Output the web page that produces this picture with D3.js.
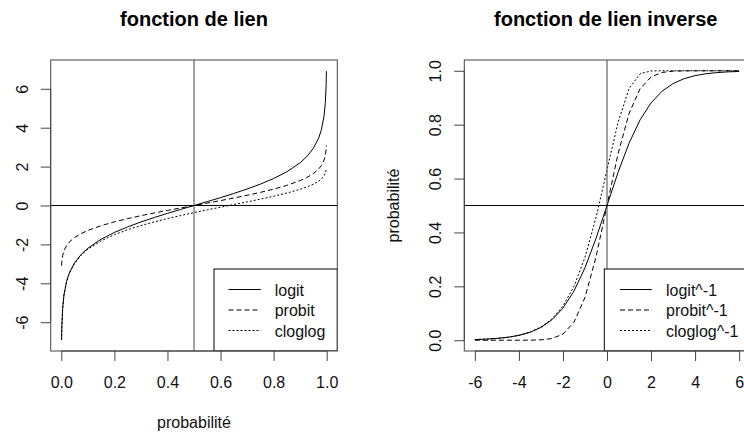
<!DOCTYPE html>
<html>
<head>
<meta charset="utf-8">
<script src="https://cdn.jsdelivr.net/npm/d3@7"></script>
<style>
  html, body { margin: 0; padding: 0; background: #fff; }
  svg { display: block; font-family: "Liberation Sans", Arial, sans-serif; }
</style>
</head>
<body>
<div id="chart"></div>
<script>
// ---------- data ----------
const probs = [0.001, 0.002, 0.005, 0.01, 0.02, 0.03, 0.05, 0.075, 0.1, 0.15, 0.2, 0.25, 0.3, 0.35, 0.4, 0.45, 0.5,
  0.55, 0.6, 0.65, 0.7, 0.75, 0.8, 0.85, 0.9, 0.925, 0.95, 0.97, 0.98, 0.99, 0.995, 0.998, 0.999];
const logitVals = [-6.907, -6.213, -5.293, -4.595, -3.892, -3.476, -2.944, -2.512, -2.197, -1.735, -1.386, -1.099, -0.847, -0.619, -0.405, -0.201, 0,
  0.201, 0.405, 0.619, 0.847, 1.099, 1.386, 1.735, 2.197, 2.512, 2.944, 3.476, 3.892, 4.595, 5.293, 6.213, 6.907];
const probitVals = [-3.090, -2.878, -2.576, -2.326, -2.054, -1.881, -1.645, -1.440, -1.282, -1.036, -0.842, -0.674, -0.524, -0.385, -0.253, -0.126, 0,
  0.126, 0.253, 0.385, 0.524, 0.674, 0.842, 1.036, 1.282, 1.440, 1.645, 1.881, 2.054, 2.326, 2.576, 2.878, 3.090];
const cloglogVals = [-6.907, -6.213, -5.296, -4.600, -3.902, -3.491, -2.970, -2.552, -2.250, -1.817, -1.500, -1.246, -1.031, -0.842, -0.672, -0.514, -0.367,
  -0.225, -0.0875, 0.0486, 0.1856, 0.3266, 0.4759, 0.6403, 0.834, 0.9518, 1.0972, 1.2546, 1.3641, 1.5272, 1.6674, 1.8270, 1.9326];

const etas = [-6, -5.5, -5, -4.5, -4, -3.5, -3, -2.5, -2, -1.5, -1, -0.5, 0, 0.5, 1, 1.5, 2, 2.5, 3, 3.5, 4, 4.5, 5, 5.5, 6];
const invLogitVals = [0.00247, 0.00407, 0.00669, 0.01099, 0.01799, 0.02931, 0.04743, 0.07586, 0.11920, 0.18243, 0.26894, 0.37754, 0.5,
  0.62246, 0.73106, 0.81757, 0.88080, 0.92414, 0.95257, 0.97069, 0.98201, 0.98901, 0.99331, 0.99593, 0.99753];
const invProbitVals = [0, 0, 0.0000003, 0.0000034, 0.0000317, 0.000233, 0.00135, 0.00621, 0.02275, 0.06681, 0.15866, 0.30854, 0.5,
  0.69146, 0.84134, 0.93319, 0.97725, 0.99379, 0.99865, 0.99977, 0.99997, 1, 1, 1, 1];
const invCloglogVals = [0.002476, 0.004078, 0.006715, 0.011048, 0.018149, 0.029746, 0.048568, 0.078806, 0.126577, 0.199989, 0.307799, 0.454760, 0.632121,
  0.807704, 0.934012, 0.988685, 0.999382, 0.999995, 1, 1, 1, 1, 1, 1, 1];

const leftXTicks = [0, 0.2, 0.4, 0.6, 0.8, 1.0];
const leftYTicks = [-6, -4, -2, 0, 2, 4, 6];
const rightXTicks = [-6, -4, -2, 0, 2, 4, 6];
const rightYTicks = [0, 0.2, 0.4, 0.6, 0.8, 1.0];

const leftLegend = ["logit", "probit", "cloglog"];
const rightLegend = ["logit^-1", "probit^-1", "cloglog^-1"];
const dashes = [null, "5,3", "2,2"];

// ---------- layout ----------
const W = 744, H = 437;
const svg = d3.select("#chart").append("svg").attr("width", W).attr("height", H);

const boxCol = "#444", txtCol = "#111", lineCol = "#000";

function panel(opts) {
  const { x, y, xTicks, yTicks, xFmt, yFmt, series, title, titleX, xlab, ylab, vline, hline, legend, legendBox, yLabX } = opts;
  const g = svg.append("g");
  const [x0, x1] = x.range();
  const [y0, y1] = y.range(); // y0 bottom, y1 top
  const clipId = "clip" + Math.round(x0);
  svg.append("clipPath").attr("id", clipId).append("rect")
    .attr("x", x0).attr("y", y1).attr("width", x1 - x0).attr("height", y0 - y1);

  const plotG = g.append("g").attr("clip-path", `url(#${clipId})`);
  // curves
  series.forEach((s, i) => {
    const line = d3.line().x(d => x(d[0])).y(d => y(d[1]));
    plotG.append("path")
      .attr("d", line(s.xs.map((v, k) => [v, s.ys[k]])))
      .attr("fill", "none").attr("stroke", lineCol).attr("stroke-width", 1)
      .attr("stroke-dasharray", dashes[i]);
  });
  // reference lines
  plotG.append("line").attr("x1", x(vline)).attr("x2", x(vline)).attr("y1", y1).attr("y2", y0)
    .attr("stroke", boxCol).attr("stroke-width", 1);
  plotG.append("line").attr("x1", x0).attr("x2", x1).attr("y1", y(hline)).attr("y2", y(hline))
    .attr("stroke", lineCol).attr("stroke-width", 1);

  // legend
  const lg = plotG.append("g");
  lg.append("rect").attr("x", legendBox.x).attr("y", legendBox.y)
    .attr("width", x1 - legendBox.x).attr("height", y0 - legendBox.y)
    .attr("fill", "#fff").attr("stroke", lineCol).attr("stroke-width", 1);
  legend.forEach((lab, i) => {
    const ly = legendBox.rowY + i * 20.5;
    lg.append("line").attr("x1", legendBox.lx0).attr("x2", legendBox.lx1).attr("y1", ly).attr("y2", ly)
      .attr("stroke", lineCol).attr("stroke-width", 1).attr("stroke-dasharray", dashes[i]);
    lg.append("text").attr("x", legendBox.tx).attr("y", ly + 6)
      .attr("font-size", 16).attr("fill", txtCol).text(lab);
  });

  // box
  g.append("rect").attr("x", x0).attr("y", y1).attr("width", x1 - x0).attr("height", y0 - y1)
    .attr("fill", "none").attr("stroke", boxCol).attr("stroke-width", 1);

  // x axis
  const xAxis = d3.axisBottom(x).tickValues(xTicks).tickFormat(xFmt).tickSize(10).tickPadding(8);
  const xa = g.append("g").attr("transform", `translate(0,${y0})`).call(xAxis);
  xa.select(".domain").attr("d", `M${x(xTicks[0])},0H${x(xTicks[xTicks.length - 1])}`).attr("stroke", boxCol);
  xa.selectAll(".tick line").attr("stroke", boxCol);
  xa.selectAll(".tick text").attr("font-size", 16).attr("fill", txtCol)
    .attr("font-family", '"Liberation Sans", Arial, sans-serif').attr("dy", null).attr("y", 37);

  // y axis
  const yAxis = d3.axisLeft(y).tickValues(yTicks).tickFormat(yFmt).tickSize(10);
  const ya = g.append("g").attr("transform", `translate(${x0},0)`).call(yAxis);
  ya.select(".domain").attr("d", `M0,${y(yTicks[0])}V${y(yTicks[yTicks.length - 1])}`).attr("stroke", boxCol);
  ya.selectAll(".tick line").attr("stroke", boxCol);
  ya.selectAll(".tick text")
    .attr("font-size", 16).attr("fill", txtCol)
    .attr("font-family", '"Liberation Sans", Arial, sans-serif')
    .attr("x", null).attr("dy", null).attr("text-anchor", "middle")
    .attr("transform", `translate(${yLabX - x0},0) rotate(-90)`);

  // title
  svg.append("text").attr("x", titleX).attr("y", 25.5).attr("text-anchor", "middle")
    .attr("font-size", 20).attr("font-weight", "bold").attr("fill", "#000").text(title);
  if (xlab) {
    svg.append("text").attr("x", (x0 + x1) / 2).attr("y", 428).attr("text-anchor", "middle")
      .attr("font-size", 16).attr("fill", txtCol).text(xlab);
  }
  if (ylab) {
    svg.append("text").attr("transform", `translate(${ylab.x},${(y0 + y1) / 2}) rotate(-90)`)
      .attr("text-anchor", "middle").attr("font-size", 16).attr("fill", txtCol).text(ylab.text);
  }
}

// left panel
const xL = d3.scaleLinear().domain([-0.04, 1.04]).range([50.7, 337.3]);
const yL = d3.scaleLinear().domain([-7.48, 7.48]).range([351, 60]);
panel({
  x: xL, y: yL, xTicks: leftXTicks, yTicks: leftYTicks,
  xFmt: d3.format(".1f"), yFmt: d => String(d).replace("-", "-"),
  series: [
    { xs: probs, ys: logitVals },
    { xs: probs, ys: probitVals },
    { xs: probs, ys: cloglogVals }
  ],
  title: "fonction de lien", titleX: 194, xlab: "probabilité", ylab: null,
  vline: 0.5, hline: 0,
  legend: leftLegend,
  legendBox: { x: 214, y: 269, rowY: 289.5, lx0: 228.5, lx1: 260.7, tx: 274.7 },
  yLabX: 27.5
});

// right panel
const xR = d3.scaleLinear().domain([-6.48, 6.48]).range([464.3, 749.7]);
const yR = d3.scaleLinear().domain([-0.04, 1.04]).range([351, 60]);
panel({
  x: xR, y: yR, xTicks: rightXTicks, yTicks: rightYTicks,
  xFmt: d => String(d), yFmt: d3.format(".1f"),
  series: [
    { xs: etas, ys: invLogitVals },
    { xs: etas, ys: invProbitVals },
    { xs: etas, ys: invCloglogVals }
  ],
  title: "fonction de lien inverse", titleX: 605.7, xlab: null,
  ylab: { text: "probabilité", x: 398.5 },
  vline: 0, hline: 0.5,
  legend: rightLegend,
  legendBox: { x: 604.3, y: 269, rowY: 289.5, lx0: 620, lx1: 651.7, tx: 666 },
  yLabX: 441
});
</script>
</body>
</html>
